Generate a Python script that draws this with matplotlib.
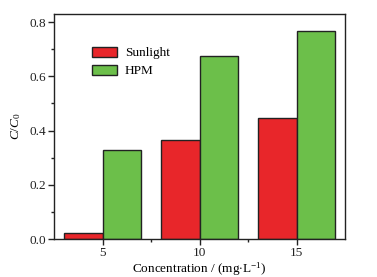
import matplotlib
matplotlib.use("Agg")
import matplotlib.pyplot as plt
import numpy as np
from matplotlib.ticker import MultipleLocator, FixedLocator, FormatStrFormatter

plt.rcParams['font.family'] = ['Liberation Serif', 'DejaVu Serif']
plt.rcParams['mathtext.fontset'] = 'custom'
plt.rcParams['mathtext.rm'] = 'Liberation Serif'
plt.rcParams['mathtext.it'] = 'Liberation Serif:italic'

concentrations = [5, 10, 15]
sunlight = [0.022, 0.367, 0.447]
hpm = [0.329, 0.676, 0.767]

fig = plt.figure(figsize=(3.77, 2.77), dpi=100)
ax = fig.add_axes([54 / 377, 38 / 277, 291 / 377, 225 / 277])

x = np.array(concentrations, dtype=float)
w = 2.0
ax.bar(x - w / 2, sunlight, width=w, color="#e8262a", edgecolor="#222222",
       linewidth=1.0, label="Sunlight")
ax.bar(x + w / 2, hpm, width=w, color="#6cbf4a", edgecolor="#222222",
       linewidth=1.0, label="HPM")

ax.set_xlim(2.5, 17.5)
ax.set_ylim(0, 0.83)
ax.set_xticks(concentrations)
ax.xaxis.set_minor_locator(FixedLocator([7.5, 12.5]))
ax.yaxis.set_major_locator(MultipleLocator(0.2))
ax.yaxis.set_minor_locator(MultipleLocator(0.1))
ax.yaxis.set_major_formatter(FormatStrFormatter('%.1f'))
ax.tick_params(which='major', direction='out', length=4, width=1.0,
               labelsize=9.5, pad=2, colors="#222222")
ax.tick_params(which='minor', direction='out', length=2, width=1.0, colors="#222222")
for s in ax.spines.values():
    s.set_linewidth(1.0)
    s.set_color("#222222")

ax.set_xlabel("Concentration / (mg$\\cdot$L$^{-1}$)", fontsize=9.5, labelpad=1)
ax.set_ylabel("$C/C_0$", fontsize=9.5, labelpad=4)

leg = ax.legend(loc="upper left", bbox_to_anchor=(0.1, 0.895), frameon=False,
                fontsize=9.5, handlelength=1.9, handleheight=0.8, labelspacing=0.4,
                handletextpad=0.55, borderpad=0.2)

fig.savefig("out.png", dpi=100)
